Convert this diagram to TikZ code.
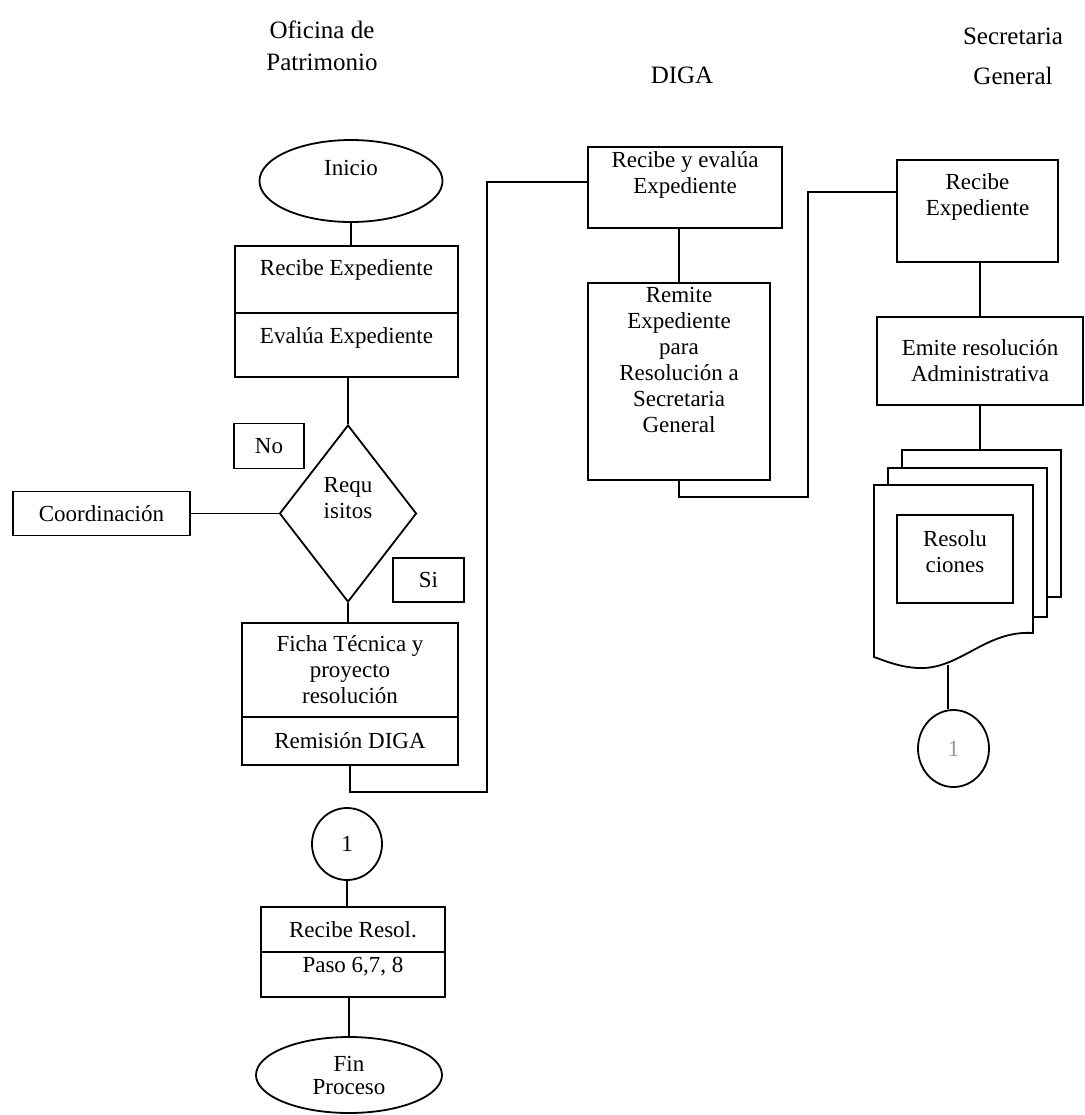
\documentclass[tikz,border=0pt]{standalone}
\usepackage{fontspec}
\setmainfont{Liberation Serif}
\usetikzlibrary{shapes.geometric}

\tikzset{
  box/.style={draw, line width=0.9pt, align=center, inner sep=2pt,
    font=\fontsize{11.5}{13}\selectfont},
  term/.style={box, ellipse},
  decis/.style={box, diamond, aspect=0.774},
  page/.style={draw, line width=0.9pt, fill=white},
  lift/.style={text depth=#1},
  head/.style={align=center, font=\fontsize{12.5}{16}\selectfont},
  line/.style={line width=0.9pt}
}

\begin{document}
\begin{tikzpicture}[x=0.5pt, y=-0.5pt]
    \useasboundingbox (0,0) rectangle (1085,1115);

    % column titles
    \node[head] (hop) at (322,46) {Oficina de\\Patrimonio};
    \node[head] (hdiga) at (682,75) {DIGA};
    \node[head] (hsg) at (1013,56) {Secretaria\\[4pt]General};

    % Oficina de Patrimonio
    \node[term, minimum width=91.5pt, minimum height=41pt, lift=13.5pt] (inicio) at (351,181) {Inicio};
    \node[box, minimum width=111.5pt, minimum height=33.5pt, lift=12pt] (recexp) at (346.5,279.5) {Recibe Expediente};
    \node[box, minimum width=111.5pt, minimum height=32pt, lift=9.5pt] (evaexp) at (346.5,345) {Evalúa Expediente};
    \node[decis, minimum width=68.5pt, minimum height=88.5pt, lift=15.5pt] (req) at (348,513.5) {Requ\\isitos};
    \node[box, minimum width=35pt, minimum height=22.5pt] (no) at (269,446) {No};
    \node[box, minimum width=88.5pt, minimum height=22pt] (coord) at (101.5,513.5) {Coordinación};
    \node[box, minimum width=35.5pt, minimum height=22pt] (si) at (428.5,580) {Si};
    \node[box, minimum width=108pt, minimum height=47pt] (ficha) at (350,670) {Ficha Técnica y\\proyecto\\resolución};
    \node[box, minimum width=108pt, minimum height=24pt] (remis) at (350,741) {Remisión DIGA};
    \node[term, minimum width=35pt, minimum height=36pt, inner sep=0pt] (con1) at (347,844) {1};
    \node[box, minimum width=92pt, minimum height=22.5pt] (recres) at (353,929.5) {Recibe Resol.};
    \node[box, minimum width=92pt, minimum height=22.5pt, lift=10pt] (paso) at (353,974.5) {Paso 6,7, 8};
    \node[term, minimum width=93pt, minimum height=38pt] (fin) at (349,1075) {Fin\\[-1.5pt]Proceso};

    % DIGA
    \node[box, minimum width=97pt, minimum height=40.5pt, lift=15.5pt] (dig1) at (685,187.5) {Recibe y evalúa\\Expediente};
    \node[box, minimum width=91pt, minimum height=98.5pt, lift=21.5pt] (dig2) at (679,381.5) {Remite\\Expediente\\para\\Resolución a\\Secretaria\\General};

    % Secretaria General
    \node[box, minimum width=80.5pt, minimum height=51pt, lift=16pt] (sg1) at (977.5,211) {Recibe\\Expediente};
    \node[box, minimum width=103pt, minimum height=44pt] (sg2) at (980,361) {Emite resolución\\Administrativa};

    % stack of documents
    \node[page, minimum width=79.5pt, minimum height=73.5pt] (pg3) at (981.5,523.5) {};
    \node[page, minimum width=79.5pt, minimum height=74.5pt] (pg2) at (967.5,542.5) {};
    \draw[page] (874,485) -- (1033,485) -- (1033,633)
        .. controls (985,630) and (960,670) .. (918,668)
        .. controls (900,667) and (888,662) .. (874,657) -- cycle;
    \coordinate (pgbot) at (948,665);
    \node[box, minimum width=58pt, minimum height=44pt, lift=7.5pt] (resol) at (955,559) {Resolu\\ciones};
    \node[term, minimum width=35.5pt, minimum height=38.5pt, inner sep=0pt, text=black!40] (con2) at (953.5,748.5) {1};

    % connectors
    \draw[line] (inicio.south) -- (inicio.south |- recexp.north);
    \draw[line] (req.north |- evaexp.south) -- (req.north);
    \draw[line] (coord.east) -- (req.west);
    \draw[line] (req.south) -- (req.south |- ficha.north);
    \coordinate (bend1) at (487,792);
    \draw[line] (remis.south) |- (bend1) |- (dig1.177);
    \draw[line] (con1.south) -- (con1.south |- recres.north);
    \draw[line] (fin.north |- paso.south) -- (fin.north);

    \draw[line] (dig2.north |- dig1.south) -- (dig2.north);
    \coordinate (bend2) at (808,497);
    \draw[line] (dig2.south) |- (bend2) |- (sg1.167);

    \draw[line] (sg2.north |- sg1.south) -- (sg2.north);
    \draw[line] (sg2.south) -- (sg2.south |- pg3.north);
    \draw[line] (pgbot) -- (pgbot |- con2.north);

\end{tikzpicture}
\end{document}
